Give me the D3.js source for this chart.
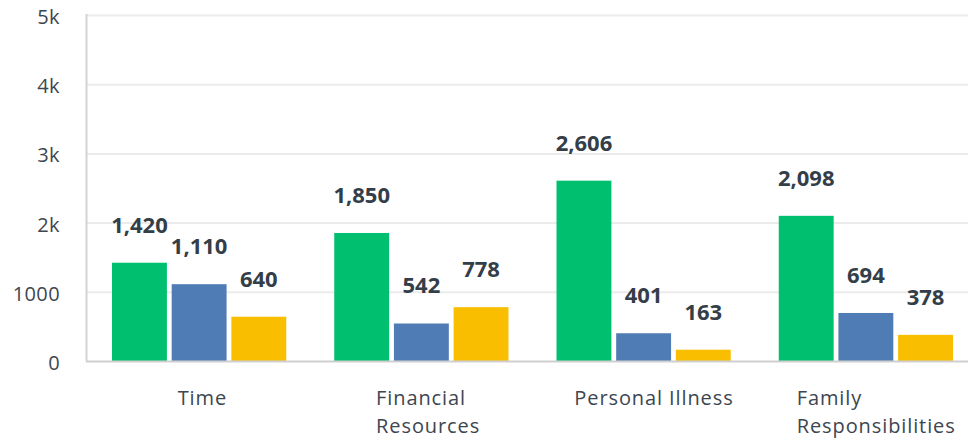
<!DOCTYPE html>
<html>
<head>
<meta charset="utf-8">
<style>
  body { margin: 0; background: #fff; }
  svg { display: block; font-family: "Open Sans", sans-serif; }
</style>
</head>
<body>
<div id="container"></div>
<script src="https://cdn.jsdelivr.net/npm/d3@7"></script>
<script>
// chart data
var categories = [["Time"], ["Financial", "Resources"], ["Personal Illness"], ["Family", "Responsibilities"]];
var seriesNames = ["A", "B", "C"];
var seriesColors = ["#00bf6f", "#507cb6", "#f9be00"];
var valuesA = [1420, 1850, 2606, 2098];
var valuesB = [1110, 542, 401, 694];
var valuesC = [640, 778, 163, 378];
var tickValues = [0, 1000, 2000, 3000, 4000, 5000];
var tickLabels = ["0", "1000", "2k", "3k", "4k", "5k"];

var seriesValues = [valuesA, valuesB, valuesC];
var catKeys = categories.map(function(c) { return c.join(" "); });

var W = 968, H = 442;

var svg = d3.select("#container")
  .append("svg")
    .attr("width", W)
    .attr("height", H);

// scales
var y = d3.scaleLinear()
  .domain([0, 5000])
  .range([361, 15]);

var x = d3.scaleBand()
  .domain(catKeys)
  .range([88, 977])
  .paddingInner(0.216)
  .paddingOuter(0.108);

var xs = d3.scaleBand()
  .domain(seriesNames)
  .range([0, x.bandwidth()])
  .paddingInner(0.08);

// gridlines
svg.append("g")
  .attr("class", "grid")
  .attr("transform", "translate(87,0)")
  .call(d3.axisLeft(y)
    .tickValues(tickValues.slice(1))
    .tickSize(-(W - 87))
    .tickFormat(""))
  .call(function(g) {
    g.select(".domain").remove();
    g.selectAll("line").attr("stroke", "#ebebeb").attr("stroke-width", 2);
  });

// y axis labels
svg.append("g")
  .attr("transform", "translate(60,0)")
  .call(d3.axisLeft(y)
    .tickValues(tickValues)
    .tickSize(0)
    .tickPadding(0)
    .tickFormat(function(d, i) { return tickLabels[i]; }))
  .call(function(g) {
    g.select(".domain").remove();
    g.selectAll("text")
      .attr("fill", "#3d4650")
      .attr("dy", "0.42em")
      .style("font-size", "20px")
      .style("letter-spacing", "0.4px")
      .style("font-family", "'Open Sans', sans-serif");
  });

// vertical axis line
svg.append("line")
  .attr("x1", 86.5).attr("x2", 86.5)
  .attr("y1", y(5000) - 1).attr("y2", y(0))
  .attr("stroke", "#d3d3d3")
  .attr("stroke-width", 2);

// bars
var groups = svg.append("g")
  .selectAll("g")
  .data(catKeys)
  .enter()
  .append("g")
    .attr("transform", function(d) { return "translate(" + x(d) + ",0)"; });

groups.selectAll("rect")
  .data(function(d, i) {
    return seriesNames.map(function(s, j) { return {s: s, j: j, v: seriesValues[j][i]}; });
  })
  .enter()
  .append("rect")
    .attr("x", function(d) { return xs(d.s); })
    .attr("y", function(d) { return y(d.v); })
    .attr("width", xs.bandwidth())
    .attr("height", function(d) { return y(0) - y(d.v); })
    .attr("fill", function(d) { return seriesColors[d.j]; });

groups.selectAll("text.val")
  .data(function(d, i) {
    return seriesNames.map(function(s, j) { return {s: s, j: j, v: seriesValues[j][i]}; });
  })
  .enter()
  .append("text")
    .attr("class", "val")
    .attr("x", function(d) { return xs(d.s) + xs.bandwidth() / 2; })
    .attr("y", function(d) { return y(d.v) - 30; })
    .attr("text-anchor", "middle")
    .attr("fill", "#333e48")
    .style("font-size", "22px")
    .style("font-weight", "bold")
    .text(function(d) { return d3.format(",")(d.v); });

// baseline
svg.append("line")
  .attr("x1", 86).attr("x2", W)
  .attr("y1", y(0) + 0.5).attr("y2", y(0) + 0.5)
  .attr("stroke", "#cfcfcf")
  .attr("stroke-width", 2);

// category labels
categories.forEach(function(lines, i) {
  var cx = x(catKeys[i]) + x.bandwidth() / 2;
  var t = svg.append("text")
    .attr("fill", "#3d4650")
    .style("font-size", "20px")
    .style("letter-spacing", "0.9px");
  lines.forEach(function(line, k) {
    t.append("tspan")
      .attr("y", 405 + k * 28)
      .text(line);
  });
  var w = d3.max(t.selectAll("tspan").nodes(), function(n) { return n.getComputedTextLength(); });
  t.selectAll("tspan").attr("x", cx - w * 0.435);
});
</script>
</body>
</html>
